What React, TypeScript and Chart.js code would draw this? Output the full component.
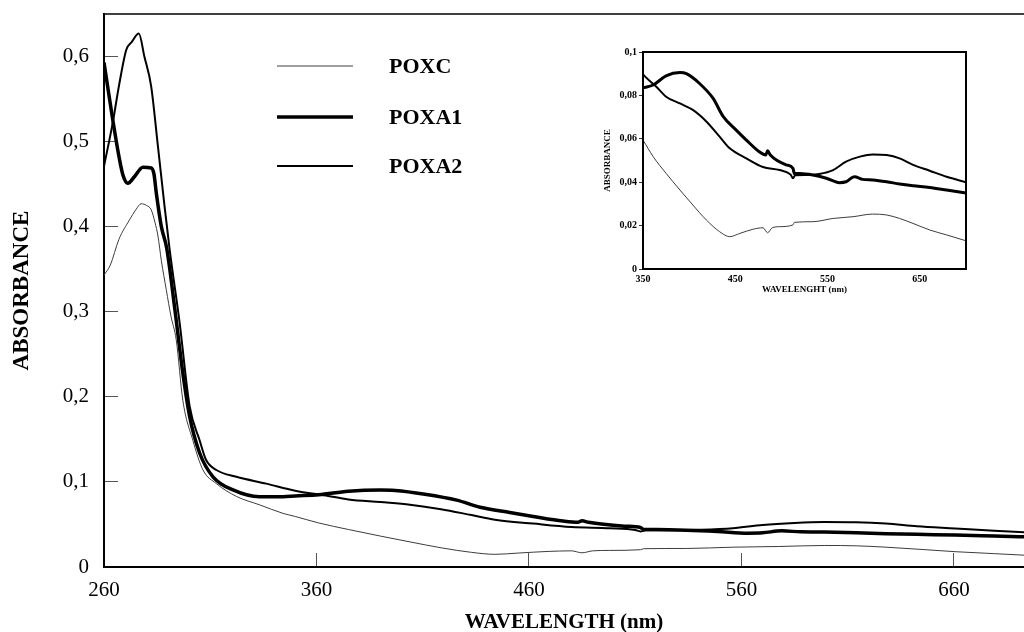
import { useEffect, useRef } from "react";
import { Chart, registerables } from "chart.js";

Chart.register(...registerables);

// ---- data ----
const seriesNames = ["POXC", "POXA1", "POXA2"];

const poxcWavelength = [260, 263, 267, 272, 275, 277.5, 280, 282.2, 284, 285.4, 287, 289.3, 291.5, 294, 297.1, 301.8, 306.6, 312.9, 322.3, 333.3, 344.3, 350, 361, 375, 390, 404, 418.6, 433, 444, 455, 469, 480, 485, 490, 498, 512.5, 514, 534, 556, 577.6, 599, 614, 628, 642.6, 660.6, 679, 700];
const poxcAbsorbance = [0.343, 0.355, 0.385, 0.408, 0.42, 0.427, 0.425, 0.42, 0.405, 0.389, 0.36, 0.326, 0.295, 0.267, 0.196, 0.149, 0.114, 0.098, 0.083, 0.073, 0.063, 0.0594, 0.0518, 0.0441, 0.0364, 0.0295, 0.0226, 0.0172, 0.0149, 0.0164, 0.0183, 0.019, 0.0167, 0.019, 0.0195, 0.0203, 0.0215, 0.0218, 0.0233, 0.0241, 0.0253, 0.0249, 0.0233, 0.021, 0.018, 0.0157, 0.013];

const poxa1Wavelength = [260, 262, 264.1, 267.3, 269, 271.2, 274.4, 278.3, 282.2, 283.5, 284.6, 287, 289.5, 293.2, 297.1, 300.3, 305, 311.3, 320.7, 333.3, 344.3, 350, 361, 375, 390, 397, 411, 426, 437, 451, 462, 476, 483, 485, 488, 505, 512.5, 514, 520, 534, 548.7, 563, 570, 579, 588, 599, 614, 628, 642.6, 660.6, 679, 700];
const poxa1Absorbance = [0.593, 0.56, 0.526, 0.479, 0.46, 0.451, 0.459, 0.47, 0.469, 0.462, 0.44, 0.4, 0.375, 0.306, 0.228, 0.177, 0.134, 0.106, 0.0906, 0.0827, 0.0827, 0.0835, 0.0848, 0.089, 0.0905, 0.09, 0.0856, 0.0786, 0.0702, 0.064, 0.0594, 0.054, 0.0525, 0.0545, 0.0525, 0.048, 0.0464, 0.044, 0.044, 0.0433, 0.0418, 0.0398, 0.0402, 0.0425, 0.0413, 0.041, 0.0402, 0.0392, 0.0384, 0.0376, 0.0364, 0.035];

const poxa2Wavelength = [260, 264.1, 267, 270.5, 273, 276.4, 279, 282.2, 285.4, 288.5, 290.9, 295.6, 300.3, 305, 308, 312.9, 322.3, 336.4, 350, 364.4, 375, 390, 404, 418.6, 433, 444, 462, 480, 498, 510, 512.5, 515, 527, 541, 556, 570, 585, 599, 614, 628, 642.6, 660.6, 679, 700];
const poxa2Absorbance = [0.471, 0.522, 0.565, 0.608, 0.617, 0.627, 0.6, 0.565, 0.494, 0.424, 0.373, 0.287, 0.189, 0.149, 0.126, 0.114, 0.106, 0.098, 0.0897, 0.084, 0.0794, 0.0763, 0.0733, 0.068, 0.061, 0.0556, 0.051, 0.047, 0.0456, 0.0435, 0.0418, 0.0432, 0.0433, 0.0438, 0.0456, 0.0495, 0.0518, 0.0528, 0.0525, 0.051, 0.048, 0.0453, 0.0425, 0.04];

const mainXTicks = [260, 360, 460, 560, 660];
const mainYTicks = [0, 0.1, 0.2, 0.3, 0.4, 0.5, 0.6];
const insetXTicks = [350, 450, 550, 650];
const insetYTicks = [0, 0.02, 0.04, 0.06, 0.08, 0.1];

const mainXTitle = "WAVELENGTH (nm)";
const insetXTitle = "WAVELENGHT (nm)";
const yTitle = "ABSORBANCE";

// ---- styling ----
const SERIF = '"Liberation Serif", "Times New Roman", serif';
const seriesStyles = [
  { borderColor: "#3c3c3c", borderWidth: 1 },
  { borderColor: "#000000", borderWidth: 3.5 },
  { borderColor: "#000000", borderWidth: 2 },
];
const insetWidths = [1, 3, 2];

const fmt = (v: number) => String(Number(Number(v).toFixed(3))).replace(".", ",");

function buildDatasets(widths?: number[]) {
  const xs = [poxcWavelength, poxa1Wavelength, poxa2Wavelength];
  const ys = [poxcAbsorbance, poxa1Absorbance, poxa2Absorbance];
  return seriesNames.map((name, i) => ({
    label: name,
    data: xs[i].map((x, j) => ({ x, y: ys[i][j] })),
    borderColor: seriesStyles[i].borderColor,
    borderWidth: widths ? widths[i] : seriesStyles[i].borderWidth,
    pointRadius: 0,
    fill: false,
    cubicInterpolationMode: "monotone" as const,
  }));
}

const mainFrame = {
  id: "mainFrame",
  afterDraw(chart: any) {
    const { ctx, chartArea } = chart;
    ctx.save();
    ctx.strokeStyle = "#000";
    ctx.lineWidth = 1.5;
    ctx.beginPath();
    ctx.moveTo(chartArea.left, chartArea.top);
    ctx.lineTo(chartArea.right, chartArea.top);
    ctx.stroke();
    ctx.restore();
  },
};

const seriesKey = {
  id: "seriesKey",
  afterDraw(chart: any) {
    const { ctx } = chart;
    const rows = [66, 117, 166];
    ctx.save();
    chart.data.datasets.forEach((ds: any, i: number) => {
      ctx.strokeStyle = ds.borderColor;
      ctx.lineWidth = ds.borderWidth;
      ctx.beginPath();
      ctx.moveTo(277, rows[i]);
      ctx.lineTo(353, rows[i]);
      ctx.stroke();
      ctx.fillStyle = "#000";
      ctx.font = `bold 22px ${SERIF}`;
      ctx.textBaseline = "middle";
      ctx.textAlign = "left";
      ctx.fillText(ds.label, 389, rows[i] + 1);
    });
    ctx.restore();
  },
};

const insetFrame = {
  id: "insetFrame",
  afterDraw(chart: any) {
    const { ctx, chartArea } = chart;
    ctx.save();
    ctx.strokeStyle = "#000";
    ctx.lineWidth = 2;
    ctx.strokeRect(chartArea.left, chartArea.top, chartArea.right - chartArea.left, chartArea.bottom - chartArea.top);
    ctx.restore();
  },
};

export default function App() {
  const mainRef = useRef<HTMLCanvasElement>(null);
  const insetRef = useRef<HTMLCanvasElement>(null);

  useEffect(() => {
    const mainChart = new Chart(mainRef.current as HTMLCanvasElement, {
      type: "line",
      data: { datasets: buildDatasets() as any },
      options: {
        responsive: false,
        animation: false,
        devicePixelRatio: 1,
        layout: { padding: { top: 14, left: 0, right: 0, bottom: 0 } },
        plugins: { legend: { display: false }, tooltip: { enabled: false } },
        scales: {
          x: {
            type: "linear",
            min: 260,
            max: 693,
            afterBuildTicks: (s: any) => {
              s.ticks = mainXTicks.map((v) => ({ value: v }));
            },
            afterFit: (s: any) => {
              s.height = 65;
              s.paddingLeft = 0;
              s.paddingRight = 0;
            },
            grid: { drawOnChartArea: false, drawTicks: true, tickLength: -14, color: "#555", lineWidth: 1 },
            border: { display: true, color: "#000", width: 2 },
            ticks: {
              color: "#000",
              font: { family: SERIF, size: 21 },
              padding: 25,
              maxRotation: 0,
              autoSkip: false,
              callback: (v: any) => fmt(v),
            },
            title: {
              display: true,
              text: mainXTitle,
              color: "#000",
              font: { family: SERIF, size: 21, weight: "bold" },
              padding: { top: 0, bottom: -3 },
            },
          },
          y: {
            type: "linear",
            min: 0,
            max: 0.65,
            afterBuildTicks: (s: any) => {
              s.ticks = mainYTicks.map((v) => ({ value: v }));
            },
            afterFit: (s: any) => {
              s.width = 104;
              s.paddingTop = 0;
              s.paddingBottom = 0;
            },
            grid: { drawOnChartArea: false, drawTicks: true, tickLength: -14, color: "#555", lineWidth: 1 },
            border: { display: true, color: "#000", width: 2 },
            ticks: {
              color: "#000",
              font: { family: SERIF, size: 21 },
              padding: 29,
              autoSkip: false,
              callback: (v: any) => fmt(v),
            },
            title: {
              display: true,
              text: yTitle,
              color: "#000",
              font: { family: SERIF, size: 23, weight: "bold" },
              padding: { top: 8, bottom: 0 },
            },
          },
        },
      } as any,
      plugins: [mainFrame, seriesKey],
    });

    const insetChart = new Chart(insetRef.current as HTMLCanvasElement, {
      type: "line",
      data: { datasets: buildDatasets(insetWidths) as any },
      options: {
        responsive: false,
        animation: false,
        devicePixelRatio: 1,
        layout: { padding: { top: 12, left: 0, right: 12, bottom: 0 } },
        plugins: { legend: { display: false }, tooltip: { enabled: false } },
        scales: {
          x: {
            type: "linear",
            min: 350,
            max: 700,
            afterBuildTicks: (s: any) => {
              s.ticks = insetXTicks.map((v) => ({ value: v }));
            },
            afterFit: (s: any) => {
              s.height = 33;
              s.paddingLeft = 0;
              s.paddingRight = 0;
            },
            grid: { display: false, drawTicks: false, tickLength: 0 },
            border: { display: true, color: "#000", width: 2 },
            ticks: {
              color: "#000",
              font: { family: SERIF, size: 10, weight: "bold" },
              padding: 4,
              maxRotation: 0,
              autoSkip: false,
              callback: (v: any) => fmt(v),
            },
            title: {
              display: true,
              text: insetXTitle,
              color: "#000",
              font: { family: SERIF, size: 9, weight: "bold" },
              padding: { top: 0, bottom: 7 },
            },
          },
          y: {
            type: "linear",
            min: 0,
            max: 0.1,
            afterBuildTicks: (s: any) => {
              s.ticks = insetYTicks.map((v) => ({ value: v }));
            },
            afterFit: (s: any) => {
              s.width = 45;
              s.paddingTop = 0;
              s.paddingBottom = 0;
            },
            grid: { drawOnChartArea: false, drawTicks: true, tickLength: 4, color: "#333", lineWidth: 1 },
            border: { display: true, color: "#000", width: 2 },
            ticks: {
              color: "#000",
              font: { family: SERIF, size: 10, weight: "bold" },
              padding: 2,
              autoSkip: false,
              callback: (v: any) => fmt(v),
            },
            title: {
              display: true,
              text: yTitle,
              color: "#000",
              font: { family: SERIF, size: 9, weight: "bold" },
              padding: { top: 4, bottom: 0 },
            },
          },
        },
      } as any,
      plugins: [insetFrame],
    });

    return () => {
      mainChart.destroy();
      insetChart.destroy();
    };
  }, []);

  return (
    <div style={{ position: "fixed", left: 0, top: 0, width: 1024, height: 632, background: "#fff", overflow: "hidden" }}>
      <canvas ref={mainRef} width={1024} height={632} style={{ position: "absolute", left: 0, top: 0 }} />
      <canvas ref={insetRef} width={380} height={262} style={{ position: "absolute", left: 598, top: 40 }} />
    </div>
  );
}
